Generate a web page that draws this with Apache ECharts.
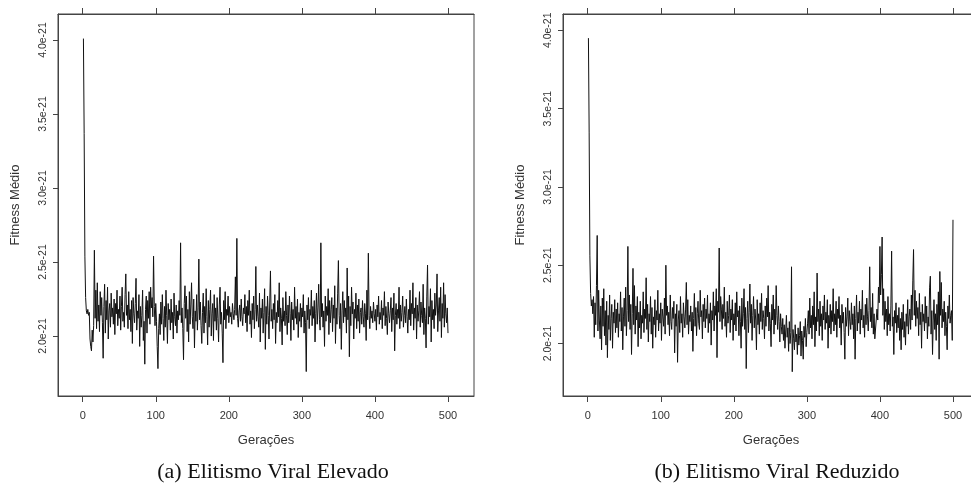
<!DOCTYPE html>
<html>
<head>
<meta charset="utf-8">
<script src="https://cdn.jsdelivr.net/npm/echarts@6/dist/echarts.min.js"></script>
<style>
  html, body { margin: 0; padding: 0; background: #fff; }
  #chart { width: 971px; height: 494px; }
</style>
</head>
<body>
<div id="chart"></div>
<script>
// values are in units of 1e-21 (labels get the "e-21" suffix)
const xTicks = [0, 100, 200, 300, 400, 500];
const yTicks = [2.0, 2.5, 3.0, 3.5, 4.0];
const captions = ['(a) Elitismo Viral Elevado', '(b) Elitismo Viral Reduzido'];

// fitness medio por geracao (1..500), elitismo viral elevado
const fitnessElevado = [
  4.01, 3.37, 2.54, 2.26, 2.17, 2.15, 2.18, 2.14, 2.16, 1.98, 1.93, 1.90, 2.04, 1.96, 2.07, 2.58, 2.12, 2.31, 2.05, 2.36,
  2.10, 2.21, 2.03, 2.30, 2.14, 2.26, 2.09, 1.85, 2.20, 2.35, 2.02, 2.24, 2.11, 2.33, 1.98, 2.17, 2.22, 2.06, 2.29, 2.13,
  2.19, 2.08, 2.25, 2.01, 2.22, 2.15, 2.31, 2.07, 2.18, 2.12, 2.27, 2.04, 2.20, 2.33, 2.10, 2.16, 2.06, 2.28, 2.42, 2.14,
  2.21, 2.05, 2.30, 2.11, 2.18, 2.03, 2.24, 1.95, 2.26, 2.15, 2.09, 2.22, 2.39, 2.04, 2.17, 2.12, 2.28, 1.93, 2.20, 2.06,
  2.14, 2.31, 1.97, 2.10, 1.81, 2.18, 2.27, 2.02, 2.24, 2.12, 2.30, 2.08, 2.33, 2.19, 2.26, 2.13, 2.54, 2.20, 2.07, 2.22,
  2.10, 1.93, 1.78, 2.05, 2.15, 2.01, 2.23, 2.08, 2.28, 2.12, 1.97, 2.20, 2.06, 2.31, 2.14, 1.95, 2.22, 2.11, 2.18, 2.04,
  2.25, 2.09, 2.16, 1.98, 2.29, 2.13, 2.07, 2.21, 2.02, 2.17, 2.11, 2.24, 2.14, 2.63, 2.09, 2.19, 2.05, 1.84, 2.22, 2.34,
  2.12, 2.27, 2.03, 2.18, 1.96, 2.30, 2.08, 2.21, 2.36, 2.13, 2.05, 2.25, 1.92, 2.17, 2.10, 2.28, 2.04, 2.19, 2.52, 2.11,
  2.23, 2.07, 1.95, 2.16, 2.29, 2.02, 2.20, 2.09, 2.32, 2.13, 1.94, 2.24, 2.06, 2.18, 2.31, 2.00, 2.15, 2.22, 1.97, 2.28,
  2.10, 2.19, 2.04, 2.26, 2.12, 1.96, 2.21, 2.33, 2.08, 2.16, 2.02, 1.82, 2.24, 2.11, 2.30, 2.05, 2.18, 2.14, 2.27, 2.09,
  2.20, 2.13, 2.16, 2.08, 2.22, 2.15, 2.11, 2.18, 2.40, 2.14, 2.66, 2.12, 2.06, 2.17, 2.21, 2.10, 2.25, 2.13, 2.07, 2.19,
  2.15, 2.28, 2.09, 2.20, 2.03, 2.24, 2.14, 2.31, 2.08, 2.17, 1.99, 2.22, 2.11, 2.27, 2.05, 2.18, 2.47, 2.10, 2.21, 2.13,
  2.06, 2.29, 1.96, 2.19, 2.12, 2.25, 2.02, 2.16, 2.32, 1.91, 2.20, 2.08, 2.27, 2.14, 1.98, 2.23, 2.44, 2.10, 2.18, 2.05,
  2.22, 2.11, 2.28, 1.95, 2.16, 2.09, 2.24, 2.13, 2.36, 2.03, 2.19, 2.12, 1.94, 2.26, 2.10, 2.17, 2.07, 2.30, 2.14, 2.01,
  2.21, 2.09, 2.27, 2.15, 1.97, 2.23, 2.11, 2.18, 2.04, 2.33, 2.12, 2.20, 2.08, 2.25, 1.99, 2.16, 2.10, 2.22, 2.06, 2.19,
  2.13, 2.28, 2.02, 2.17, 2.09, 1.76, 2.21, 2.11, 2.26, 2.05, 2.18, 2.14, 2.31, 2.07, 2.20, 2.12, 2.24, 1.96, 2.15, 2.29,
  2.08, 2.19, 2.35, 2.11, 2.04, 2.63, 2.13, 2.22, 2.06, 2.17, 1.93, 2.27, 2.10, 2.20, 2.14, 2.32, 2.01, 2.24, 2.09, 2.18,
  2.26, 2.03, 2.21, 2.12, 2.34, 1.95, 2.19, 2.08, 2.29, 2.51, 2.14, 2.05, 2.22, 1.91, 2.17, 2.30, 2.09, 2.24, 2.13, 2.19,
  2.02, 2.46, 2.11, 2.27, 1.86, 2.20, 2.07, 2.33, 2.15, 2.23, 1.98, 2.18, 2.12, 2.29, 2.05, 2.21, 2.10, 2.25, 2.02, 2.16,
  2.19, 2.08, 2.24, 2.13, 2.06, 2.22, 2.15, 1.97, 2.31, 2.11, 2.56, 2.14, 2.05, 2.20, 2.12, 2.17, 2.09, 2.23, 2.15, 2.10,
  2.18, 2.04, 2.21, 2.13, 2.27, 2.08, 2.16, 2.11, 2.24, 2.05, 2.19, 2.14, 2.30, 2.07, 2.20, 2.12, 2.01, 2.23, 2.15, 2.09,
  2.17, 2.26, 2.03, 2.19, 2.11, 2.29, 1.90, 2.14, 2.22, 2.08, 2.18, 2.12, 2.33, 2.05, 2.21, 2.10, 2.16, 2.27, 2.06, 2.14,
  2.20, 2.09, 2.25, 2.13, 2.02, 2.18, 2.11, 2.31, 2.07, 2.22, 2.15, 2.36, 2.04, 2.19, 2.12, 2.26, 1.98, 2.21, 2.10, 2.17,
  2.30, 2.06, 2.23, 2.14, 2.09, 2.35, 2.01, 2.19, 2.12, 1.92, 2.27, 2.48, 2.08, 2.20, 2.13, 2.32, 1.96, 2.24, 2.11, 2.18,
  2.05, 2.29, 2.14, 2.21, 2.42, 2.03, 2.17, 2.26, 2.10, 2.33, 1.99, 2.22, 2.12, 2.36, 2.06, 2.28, 2.15, 2.09, 2.19, 2.02
];

// fitness medio por geracao (1..500), elitismo viral reduzido
const fitnessReduzido = [
  3.95, 3.35, 2.56, 2.32, 2.24, 2.28, 2.19, 2.30, 2.04, 2.26, 2.12, 2.37, 2.69, 2.08, 2.34, 2.15, 2.03, 2.24, 1.96, 2.29,
  2.11, 2.35, 2.05, 2.21, 1.99, 2.27, 1.91, 2.18, 2.09, 2.31, 2.02, 2.16, 2.25, 1.97, 2.20, 2.13, 2.28, 2.07, 2.22, 2.10,
  2.26, 2.04, 2.19, 2.14, 2.33, 2.08, 2.23, 1.96, 2.17, 2.29, 2.11, 2.36, 2.05, 2.21, 2.62, 2.14, 2.31, 2.09, 2.25, 1.93,
  2.19, 2.48, 2.12, 2.37, 2.06, 2.24, 2.15, 2.30, 1.98, 2.20, 2.10, 2.27, 2.03, 2.18, 2.13, 2.33, 2.07, 2.22, 2.16, 2.42,
  2.09, 2.25, 2.01, 2.19, 2.14, 2.30, 2.06, 2.23, 1.97, 2.17, 2.12, 2.28, 2.04, 2.21, 2.15, 2.34, 2.08, 2.19, 2.13, 2.26,
  2.02, 2.22, 2.17, 2.11, 2.29, 2.06, 2.50, 2.18, 2.24, 2.12, 2.20, 2.05, 2.31, 2.14, 2.09, 2.23, 2.16, 2.27, 1.94, 2.19,
  2.11, 2.25, 1.88, 2.15, 2.21, 2.07, 2.30, 2.13, 2.19, 2.04, 2.26, 2.17, 2.10, 2.22, 2.39, 2.12, 2.28, 2.06, 2.18, 2.14,
  2.24, 2.08, 2.20, 1.95, 2.16, 2.32, 2.11, 2.23, 2.05, 2.19, 2.27, 2.13, 2.09, 2.34, 2.17, 2.21, 2.03, 2.25, 2.14, 2.29,
  2.10, 2.22, 2.16, 2.31, 2.07, 2.19, 2.13, 2.26, 1.99, 2.21, 2.15, 2.33, 2.08, 2.24, 2.18, 2.35, 1.91, 2.27, 2.20, 2.61,
  2.14, 2.30, 2.22, 2.09, 2.25, 2.16, 2.36, 2.11, 2.20, 2.04, 2.27, 2.13, 2.18, 2.31, 2.07, 2.22, 2.15, 2.28, 2.02, 2.19,
  2.12, 2.26, 2.08, 2.33, 2.17, 2.21, 2.05, 2.24, 2.14, 1.97, 2.29, 2.11, 2.19, 2.35, 2.09, 2.23, 1.84, 2.16, 2.27, 2.07,
  2.20, 2.38, 2.13, 2.25, 2.02, 2.18, 2.30, 2.10, 2.22, 2.15, 1.96, 2.28, 2.12, 2.19, 2.06, 2.26, 2.14, 2.32, 2.09, 2.21,
  2.16, 2.03, 2.24, 2.11, 2.29, 2.17, 2.37, 2.08, 2.20, 2.13, 1.98, 2.25, 2.15, 2.31, 2.06, 2.22, 2.12, 2.37, 2.18, 2.09,
  2.24, 2.14, 2.01, 2.19, 2.11, 2.06, 2.16, 2.02, 2.12, 1.97, 2.08, 2.18, 2.04, 2.10, 1.95, 2.14, 2.00, 2.07, 2.49, 1.82,
  2.09, 2.03, 1.96, 2.12, 2.01, 2.06, 1.93, 2.10, 1.99, 2.05, 2.14, 1.92, 2.08, 2.02, 1.90, 2.11, 2.04, 2.16, 1.98, 2.07,
  2.13, 2.21, 2.06, 2.29, 2.10, 2.18, 2.03, 2.24, 2.12, 2.33, 1.98, 2.17, 2.08, 2.45, 2.14, 2.22, 2.05, 2.27, 2.11, 2.19,
  2.02, 2.24, 2.15, 2.31, 2.09, 2.20, 2.13, 2.28, 1.97, 2.18, 2.10, 2.25, 2.06, 2.21, 2.14, 2.35, 2.08, 2.19, 2.12, 2.27,
  2.04, 2.22, 2.16, 2.30, 2.10, 2.18, 1.99, 2.25, 2.13, 2.20, 2.07, 1.90, 2.23, 2.11, 2.17, 2.29, 2.05, 2.21, 2.14, 2.09,
  2.26, 2.12, 2.19, 2.03, 2.24, 1.90, 2.16, 2.31, 2.08, 2.20, 2.13, 2.27, 2.06, 2.22, 2.15, 2.34, 2.10, 2.18, 2.04, 2.25,
  2.12, 2.29, 2.17, 2.08, 2.21, 2.49, 2.14, 2.23, 2.10, 2.32, 2.06, 2.19, 2.03, 2.04, 2.02, 2.22, 2.15, 2.36, 2.26, 2.62,
  2.31, 2.44, 2.68, 2.18, 2.35, 2.09, 2.27, 2.14, 2.22, 2.05, 2.30, 2.12, 2.19, 2.08, 2.24, 2.59, 2.11, 2.17, 1.93, 2.21,
  2.13, 2.26, 2.07, 2.18, 2.10, 2.23, 2.02, 2.16, 1.96, 2.20, 2.09, 2.25, 2.04, 2.14, 1.99, 2.19, 2.11, 2.28, 2.06, 2.17,
  2.22, 2.09, 2.31, 2.15, 2.40, 2.60, 2.18, 2.34, 2.11, 2.27, 2.16, 2.23, 2.05, 2.32, 2.12, 2.20, 1.97, 2.25, 2.14, 2.19,
  2.08, 2.30, 2.13, 2.24, 2.03, 2.17, 2.11, 2.36, 2.43, 2.06, 2.21, 1.93, 2.15, 2.28, 2.09, 2.19, 2.02, 2.25, 2.12, 2.33,
  1.90, 2.46, 2.18, 2.39, 2.10, 2.22, 2.14, 2.27, 2.05, 2.20, 2.11, 1.96, 2.24, 2.16, 2.31, 2.13, 2.18, 2.21, 2.02, 2.79
];

const chart = echarts.init(document.getElementById('chart'));

const axisColor = '#444';
const textColor = '#333';
const sans = 'Liberation Sans';
const narrow = 'Liberation Sans Narrow, Liberation Sans';

// plot boxes (R style frame), right one runs past the page edge
const grids = [
  { left: 58, top: 14, width: 416, height: 382 },
  { left: 563, top: 14, width: 416, height: 382 }
];
const yRanges = [[1.595, 4.176], [1.665, 4.104]];

function bottomAxis(i) {
  return {
    type: 'value', gridIndex: i, position: 'bottom',
    min: -33.8, max: 535.6,
    axisLine: { show: true, onZero: false, lineStyle: { color: axisColor } },
    axisTick: { show: true, length: 6, customValues: xTicks, lineStyle: { color: axisColor } },
    axisLabel: {
      customValues: xTicks, margin: 14, fontSize: 11,
      fontFamily: narrow, color: textColor
    },
    splitLine: { show: false },
    name: 'Gerações', nameLocation: 'middle', nameGap: 38,
    nameTextStyle: { fontSize: 13, fontFamily: sans, color: textColor }
  };
}

function topAxis(i) {
  return {
    type: 'value', gridIndex: i, position: 'top',
    min: -33.8, max: 535.6,
    axisLine: { show: true, onZero: false, lineStyle: { color: axisColor } },
    axisTick: { show: true, length: 6, customValues: xTicks, lineStyle: { color: axisColor } },
    axisLabel: { show: false },
    splitLine: { show: false }
  };
}

function leftAxis(i) {
  return {
    type: 'value', gridIndex: i,
    min: yRanges[i][0], max: yRanges[i][1],
    axisLine: { show: true, onZero: false, lineStyle: { color: axisColor } },
    axisTick: { show: true, length: 5, customValues: yTicks, lineStyle: { color: axisColor } },
    axisLabel: {
      customValues: yTicks, rotate: 90, margin: 9, fontSize: 10.5,
      fontFamily: narrow, color: textColor,
      formatter: v => v.toFixed(1) + 'e-21'
    },
    splitLine: { show: false },
    name: 'Fitness Médio', nameLocation: 'middle', nameGap: 36, nameRotate: 90,
    nameTextStyle: { fontSize: 13, fontFamily: sans, color: textColor }
  };
}

const option = {
  animation: false,
  backgroundColor: '#fff',
  title: captions.map((t, i) => ({
    text: t,
    left: grids[i].left + (i === 0 ? 210 : 209),
    top: 456,
    textAlign: 'center',
    textStyle: { fontSize: 22, fontWeight: 'normal', fontFamily: 'Liberation Serif', color: '#111' }
  })),
  grid: grids.map(g => ({
    ...g, outerBoundsMode: 'none', containLabel: false,
    show: true, borderColor: axisColor, borderWidth: 1, backgroundColor: 'transparent'
  })),
  xAxis: [bottomAxis(0), bottomAxis(1), topAxis(0), topAxis(1)],
  yAxis: [leftAxis(0), leftAxis(1)],
  series: [fitnessElevado, fitnessReduzido].map((vals, i) => ({
    type: 'line',
    xAxisIndex: i,
    yAxisIndex: i,
    data: vals.map((v, k) => [k + 1, v]),
    showSymbol: false,
    silent: true,
    lineStyle: { color: '#111', width: 1 }
  }))
};

chart.setOption(option);
</script>
</body>
</html>
